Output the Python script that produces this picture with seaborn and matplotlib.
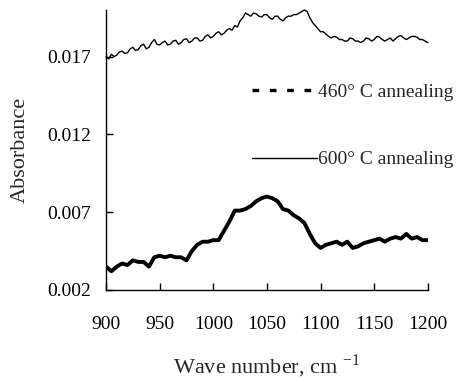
import numpy as np
import pandas as pd
import seaborn as sns
import matplotlib.pyplot as plt
from matplotlib.lines import Line2D

# 460 C annealing (thick line), every 5 cm-1
wn_460 = np.arange(900, 1201, 5)
abs_460 = [0.0035, 0.0032, 0.0035, 0.0037, 0.0036, 0.0039, 0.0038, 0.0038, 0.0035, 0.0041,
           0.0042, 0.0041, 0.0042, 0.0041, 0.0041, 0.0039, 0.0045, 0.0049, 0.0051, 0.0051,
           0.0052, 0.0052, 0.0058, 0.0064, 0.0071, 0.0071, 0.0072, 0.0074, 0.0077, 0.0079,
           0.0080, 0.0079, 0.0077, 0.0072, 0.0071, 0.0068, 0.0066, 0.0063, 0.0056, 0.0050,
           0.0047, 0.0049, 0.0050, 0.0051, 0.0049, 0.0051, 0.0047, 0.0048, 0.0050, 0.0051,
           0.0052, 0.0053, 0.0051, 0.0053, 0.0054, 0.0053, 0.0056, 0.0053, 0.0054, 0.0052,
           0.0052]

# 600 C annealing (thin line), every 2.5 cm-1
wn_600 = np.arange(900, 1200.1, 2.5)
abs_600 = [0.0170, 0.01685, 0.01715, 0.0170, 0.0171, 0.0173, 0.01735, 0.0172,
           0.01725, 0.0175, 0.0176, 0.0174, 0.01745, 0.0177, 0.0178, 0.0175,
           0.0176, 0.0179, 0.0181, 0.0178, 0.01775, 0.0179, 0.0180, 0.01775,
           0.0178, 0.0180, 0.01805, 0.0178, 0.0179, 0.0181, 0.01815, 0.0179,
           0.0180, 0.0182, 0.0182, 0.0180, 0.01805, 0.0183, 0.0184, 0.0182,
           0.0183, 0.0185, 0.0186, 0.0184, 0.0185, 0.0187, 0.0188, 0.0187,
           0.0190, 0.0189, 0.0193, 0.0195, 0.0198, 0.0197, 0.0196, 0.0198,
           0.01975, 0.0196, 0.01955, 0.0197, 0.0197, 0.0195, 0.0194, 0.0196,
           0.0196, 0.0194, 0.0193, 0.0195, 0.0196, 0.0196, 0.0197, 0.0197,
           0.0198, 0.0199, 0.0200, 0.0199, 0.0195, 0.0192, 0.0190, 0.0188,
           0.0186, 0.0186, 0.01845, 0.0183, 0.0182, 0.0183, 0.01825, 0.0181,
           0.0181, 0.0180, 0.0180, 0.0182, 0.01815, 0.0180, 0.0180, 0.0179,
           0.0180, 0.0182, 0.01815, 0.0180, 0.0181, 0.0183, 0.01825, 0.0181,
           0.0180, 0.0181, 0.0182, 0.0180, 0.01815, 0.0183, 0.01835, 0.0182,
           0.0181, 0.0182, 0.0183, 0.0183, 0.01825, 0.0181, 0.0181, 0.0180,
           0.0179]

labels = ["460\u00b0 C annealing", "600\u00b0 C annealing"]
xticks = [900, 950, 1000, 1050, 1100, 1150, 1200]
yticks = [0.002, 0.007, 0.012, 0.017]

sns.set_style("ticks")
plt.rcParams['font.family'] = ['Liberation Serif', 'DejaVu Serif']

fig = plt.figure(figsize=(4.59, 3.83), dpi=100)
ax = fig.add_axes([0.231, 0.243, 0.701, 0.731])

df460 = pd.DataFrame({"x": wn_460, "y": abs_460})
df600 = pd.DataFrame({"x": wn_600, "y": abs_600})
sns.lineplot(data=df460, x="x", y="y", ax=ax, color="black", linewidth=2.8)
sns.lineplot(data=df600, x="x", y="y", ax=ax, color="black", linewidth=1.0, clip_on=False)

ax.set_xlim(900, 1200)
ax.set_ylim(0.002, 0.020)
ax.set_xticks(xticks)
ax.set_yticks(yticks)
ax.set_yticklabels([f"{v:.3f}" for v in yticks])
ax.tick_params(direction="in", length=5, width=1, labelsize=14, colors="black")
ax.tick_params(axis="x", pad=19)
ax.tick_params(axis="y", pad=11)
for s in ["top", "right"]:
    ax.spines[s].set_visible(False)
for s in ["left", "bottom"]:
    ax.spines[s].set_color("black")
    ax.spines[s].set_linewidth(1)

ax.set_xlabel("Wave number, cm $^{\\mathregular{-1}}$", fontsize=16, labelpad=14)
ax.set_ylabel("Absorbance", fontsize=16, labelpad=12)

handles = [Line2D([], [], color="black", linewidth=2.4, linestyle=(0, (2.0, 3.2))),
           Line2D([], [], color="black", linewidth=1.0)]
ax.legend(handles, labels, frameon=False, fontsize=14, handlelength=3.3,
          handletextpad=0.05, labelspacing=2.55, borderpad=0, borderaxespad=0,
          loc="upper left", bbox_to_anchor=(0.455, 0.737))

fig.savefig("out.png", dpi=100)
